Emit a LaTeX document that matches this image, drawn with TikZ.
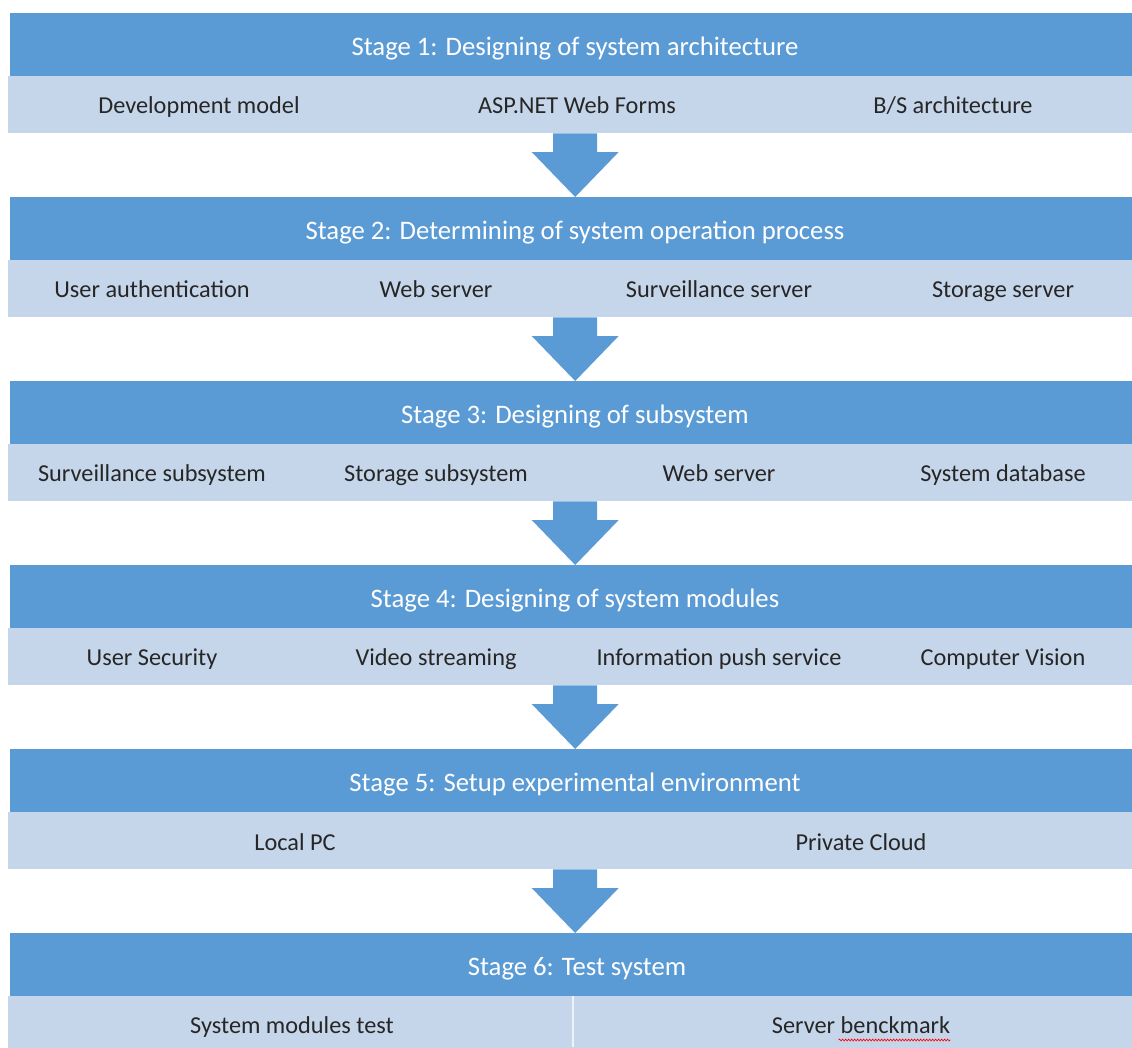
\documentclass[tikz,border=0pt]{standalone}
\usepackage{fontspec}
\setmainfont{Carlito}
\usetikzlibrary{calc,decorations.pathmorphing}
\definecolor{hdrblue}{HTML}{5B9BD5}
\definecolor{subblue}{HTML}{C6D6EA}
\definecolor{txtdark}{HTML}{262626}
\tikzset{
  hdrbox/.style={fill=hdrblue, draw=none, anchor=north west, minimum width=1130, minimum height=63, inner sep=0pt},
  hdrtext/.style={text=white, inner sep=0pt, anchor=base, font=\fontsize{26.7}{28}\selectfont},
  subbox/.style={fill=subblue, draw=none, anchor=north west, minimum width=1134, minimum height=57, inner sep=0pt},
  item/.style={text=txtdark, inner sep=0pt, anchor=base, font=\fontsize{24.3}{26}\selectfont},
  blockarrow/.style={fill=hdrblue, draw=none}
}
\newcommand{\stagearrow}[2]{%
  \fill[blockarrow] ($(#1.south)+(-22,0)$) -- ($(#1.south)+(22,0)$)
    -- ($(#2.north)+(22,-45)$) -- ($(#2.north)+(43.5,-45)$)
    -- ($(#2.north)+(0,0)$)
    -- ($(#2.north)+(-43.5,-45)$) -- ($(#2.north)+(-22,-45)$) -- cycle;}
\begin{document}
\begin{tikzpicture}[x=1pt,y=-1pt]
\useasboundingbox (0,0) rectangle (1132,1047);
\begin{scope}
\clip (0,0) rectangle (1132,1047);
% Stage 1
\node[hdrbox] (h1) at (10,13) {};
\node[hdrtext] (t1) at (575,55) {Stage 1: Designing of system architecture};
\node[subbox] (s1) at (8,76) {};
\node[item] (s1a) at (199,113) {Development model};
\node[item] (s1b) at (577,113) {ASP.NET Web Forms};
\node[item] (s1c) at (953,113) {B/S architecture};
% Stage 2
\node[hdrbox] (h2) at (10,197) {};
\node[hdrtext] (t2) at (575,239) {Stage 2: Determining of system operation process};
\node[subbox] (s2) at (8,260) {};
\node[item] (s2a) at (152,297) {User authentication};
\node[item] (s2b) at (436,297) {Web server};
\node[item] (s2c) at (719,297) {Surveillance server};
\node[item] (s2d) at (1003,297) {Storage server};
% Stage 3
\node[hdrbox] (h3) at (10,381) {};
\node[hdrtext] (t3) at (575,423) {Stage 3: Designing of subsystem};
\node[subbox] (s3) at (8,444) {};
\node[item] (s3a) at (152,481) {Surveillance subsystem};
\node[item] (s3b) at (436,481) {Storage subsystem};
\node[item] (s3c) at (719,481) {Web server};
\node[item] (s3d) at (1003,481) {System database};
% Stage 4
\node[hdrbox] (h4) at (10,565) {};
\node[hdrtext] (t4) at (575,607) {Stage 4: Designing of system modules};
\node[subbox] (s4) at (8,628) {};
\node[item] (s4a) at (152,665) {User Security};
\node[item] (s4b) at (436,665) {Video streaming};
\node[item] (s4c) at (719,665) {Information push service};
\node[item] (s4d) at (1003,665) {Computer Vision};
% Stage 5
\node[hdrbox] (h5) at (10,749) {};
\node[hdrtext] (t5) at (575,791) {Stage 5: Setup experimental environment};
\node[subbox] (s5) at (8,812) {};
\node[item] (s5a) at (295,850) {Local PC};
\node[item] (s5b) at (861,850) {Private Cloud};
% Stage 6
\node[hdrbox] (h6) at (10,933) {};
\node[hdrtext] (t6) at (577,975) {Stage 6: Test system};
\node[subbox] (s6) at (8,996) {};
\draw[white!70!subblue, line width=1.2pt] (573,996) -- (573,1047);
\node[item] (s6a) at (292,1033) {System modules test};
\node[item] (s6b) at (861,1033) {Server benckmark};
\draw[red, line width=0.7pt, decorate, decoration={snake, amplitude=0.9pt, segment length=3pt}]
  ($(s6b.base west)+(67,7)$) -- ($(s6b.base east)+(0,7)$);
\end{scope}
% Arrows
\stagearrow{s1}{h2}
\stagearrow{s2}{h3}
\stagearrow{s3}{h4}
\stagearrow{s4}{h5}
\stagearrow{s5}{h6}
\end{tikzpicture}
\end{document}
